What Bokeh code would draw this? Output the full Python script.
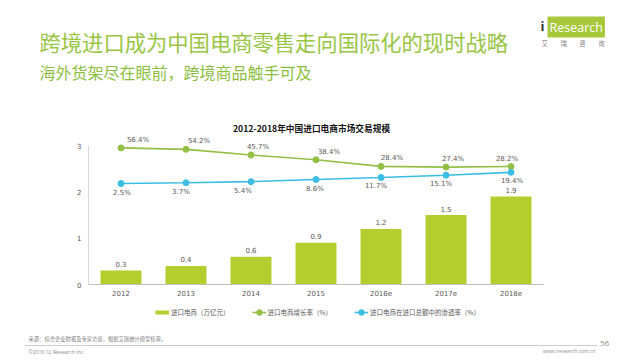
from bokeh.plotting import figure
from bokeh.layouts import column
from bokeh.models import (ColumnDataSource, Range1d, FactorRange, FixedTicker, LabelSet, Label,
                          Legend, LegendItem)
from bokeh.core.properties import value
from bokeh.embed import file_html
from bokeh.resources import INLINE

# ---------------- data ----------------
years = ["2012", "2013", "2014", "2015", "2016e", "2017e", "2018e"]
market_scale = [0.3, 0.4, 0.6, 0.9, 1.2, 1.5, 1.9]          # 进口电商（万亿元）
growth_rate = [56.4, 54.2, 45.7, 38.4, 28.4, 27.4, 28.2]     # 进口电商增长率（%）
penetration = [2.5, 3.7, 5.4, 8.6, 11.7, 15.1, 19.4]         # 渗透率（%）
y_ticks = [0, 1, 2, 3]
legend_labels = ["进口电商（万亿元）", "进口电商增长率（%）", "进口电商在进口总额中的渗透率（%）"]

# label nudges (px) as in the reference
growth_label_dx = [17, 13, 7, 13, 11, 7, -4]
pen_label_dx = [1, -5, -8, -1, -5, -5, 1]

# ---------------- layout constants ----------------
W = 640
HEAD_H, CHART_H, FOOT_H = 115, 185, 60
FL, FW = 88, 455                 # frame left / width of chart
FRAME_BOTTOM = 284               # page y of value 0
Y3_PX = 145                      # page y of value 3
CJK = "Noto Sans CJK SC"
NUM = "DejaVu Sans"
BAR_C = "#b3ce2e"
GREEN_C = "#93bf45"
BLUE_C = "#3cbde2"
GRAY_T = "#595959"


def blank(h, y0):
    f = figure(width=W, height=h, x_range=Range1d(0, W), y_range=Range1d(y0 + h, y0),
               x_axis_type=None, y_axis_type=None, output_backend="svg",
               toolbar_location=None, title_location=None, min_border=0, frame_align=False)
    f.outline_line_color = None
    f.grid.visible = False
    return f


def add_text(f, X, Y, text, size, color, font=CJK, align="left", style="normal", **kw):
    f.add_layout(Label(x=X, y=Y, text=text, text_font=font, text_font_size=f"{size}px",
                       text_color=color, text_align=align, text_baseline="middle",
                       text_font_style=style, **kw))


# ---------------- header ----------------
head = blank(HEAD_H, 0)
add_text(head, 39, 41, "跨境进口成为中国电商零售走向国际化的现时战略", 21.3, "#98c544")
add_text(head, 39, 71, "海外货架尽在眼前，跨境商品触手可及", 16, "#8cbf3f")
add_text(head, 547, 26.5, "Research", 12.5, "white", font="Open Sans",
         background_fill_color="#a6c83a", padding=2)
add_text(head, 540, 25, "i", 13, "#333333", font="Open Sans", style="bold")
add_text(head, 541, 43, "艾　　瑞　　咨　　询", 6.3, "#808080")

# ---------------- chart ----------------
frame_top = HEAD_H
frame_h = FRAME_BOTTOM - frame_top
px_per_unit = (FRAME_BOTTOM - Y3_PX) / 3.0
y_end = frame_h / px_per_unit
pct_lo, pct_hi3 = -150.0, 60.0   # secondary (hidden) scale at value 0 / value 3 of primary
pct_per_px = (pct_hi3 - pct_lo) / (FRAME_BOTTOM - Y3_PX)
pct_hi = pct_lo + frame_h * pct_per_px

p = figure(width=W, height=CHART_H, x_range=FactorRange(*years, range_padding=0),
           y_range=Range1d(0, y_end), output_backend="svg", toolbar_location=None,
           title_location=None, frame_align=False,
           min_border_left=FL, min_border_right=W - FL - FW,
           min_border_top=0, min_border_bottom=HEAD_H + CHART_H - FRAME_BOTTOM)
p.extra_y_ranges = {"pct": Range1d(pct_lo, pct_hi)}
p.outline_line_color = None
p.grid.visible = False

# chart title (inside the frame, screen units from frame bottom-left)
p.add_layout(Label(x=311 - FL, y=FRAME_BOTTOM - 128, x_units="screen", y_units="screen",
                   text="2012-2018年中国进口电商市场交易规模", text_font=CJK,
                   text_font_size="8.7px", text_font_style="bold", text_color="#111111",
                   text_align="center", text_baseline="middle"))

src = ColumnDataSource(dict(
    x=years, bar=market_scale, g=growth_rate, b=penetration,
    bar_t=[f"{v:.1f}" for v in market_scale],
    g_t=[f"{v:.1f}%" for v in growth_rate],
    b_t=[f"{v:.1f}%" for v in penetration],
    gdx=growth_label_dx, bdx=pen_label_dx,
))

p.vbar(x="x", top="bar", width=0.63, source=src, fill_color=BAR_C, line_color=None)
p.line("x", "g", source=src, y_range_name="pct", line_color=GREEN_C, line_width=1.6)
p.scatter("x", "g", source=src, y_range_name="pct", size=6, fill_color=GREEN_C, line_color=GREEN_C)
p.line("x", "b", source=src, y_range_name="pct", line_color=BLUE_C, line_width=1.6)
p.scatter("x", "b", source=src, y_range_name="pct", size=6, fill_color=BLUE_C, line_color=BLUE_C)

lab_kw = dict(text_font=value(NUM), text_font_size="7px", text_color=GRAY_T,
              text_align="center", text_baseline="middle", source=src)
p.add_layout(LabelSet(x="x", y="bar", text="bar_t", y_offset=6.5, **lab_kw))
p.add_layout(LabelSet(x="x", y="g", text="g_t", x_offset="gdx", y_offset=8, y_range_name="pct", **lab_kw))
p.add_layout(LabelSet(x="x", y="b", text="b_t", x_offset="bdx", y_offset=-9, y_range_name="pct", **lab_kw))

for ax in (p.xaxis[0], p.yaxis[0]):
    ax.major_tick_line_color = None
    ax.minor_tick_line_color = None
    ax.major_tick_out = 0
    ax.major_tick_in = 0
    ax.minor_tick_out = 0
    ax.major_label_text_font = NUM
    ax.major_label_text_font_size = "7px"
    ax.major_label_text_color = GRAY_T
p.yaxis[0].ticker = FixedTicker(ticks=y_ticks)
p.yaxis[0].bounds = (y_ticks[0], y_ticks[-1])
p.yaxis[0].axis_line_color = "#d9d9d9"
p.yaxis[0].major_label_standoff = 7
p.xaxis[0].axis_line_color = "#bfbfbf"
p.xaxis[0].major_label_standoff = 5

# ---------------- footer ----------------
foot_y0 = HEAD_H + CHART_H
foot = blank(FOOT_H, foot_y0)
# legend proxies: a single point placed off the canvas so only the legend swatch shows
off_x, off_y = [-100, -90], [foot_y0 - 100, foot_y0 - 100]
d_bar = foot.line(x=off_x, y=off_y, line_color=BAR_C, line_width=4)
d_gl = foot.line(x=off_x, y=off_y, line_color=GREEN_C, line_width=1.6)
d_gs = foot.scatter(x=off_x, y=off_y, fill_color=GREEN_C, line_color=GREEN_C)
d_bl = foot.line(x=off_x, y=off_y, line_color=BLUE_C, line_width=1.6)
d_bs = foot.scatter(x=off_x, y=off_y, fill_color=BLUE_C, line_color=BLUE_C)
legend = Legend(items=[
    LegendItem(label=legend_labels[0], renderers=[d_bar]),
    LegendItem(label=legend_labels[1], renderers=[d_gl, d_gs]),
    LegendItem(label=legend_labels[2], renderers=[d_bl, d_bs]),
], orientation="horizontal", location=(155, foot_y0 + FOOT_H - 319),
    glyph_width=14, glyph_height=14, label_height=14, label_standoff=2, spacing=22,
    padding=0, margin=0, label_text_font=CJK, label_text_font_size="6.5px",
    label_text_color=GRAY_T, border_line_color=None, background_fill_alpha=0)
foot.add_layout(legend)

foot.line(x=[24, 597], y=[345, 345], line_color="#bfbfbf", line_width=0.8)
add_text(foot, 28, 338, "来源：综合企业财报及专家访谈，根据艾瑞统计模型核算。", 5.3, "#7f7f7f")
add_text(foot, 28, 351, "©2016.12 iResearch Inc.", 5, "#8c8c8c", font="Open Sans")
add_text(foot, 595, 350, "www.iresearch.com.cn", 5, "#8c8c8c", font="Open Sans", align="right")
add_text(foot, 604, 343, "56", 8, "#8c8c8c", font="Open Sans", align="center")

layout = column(head, p, foot, spacing=0)
open("out.html", "w").write(file_html(layout, INLINE))
